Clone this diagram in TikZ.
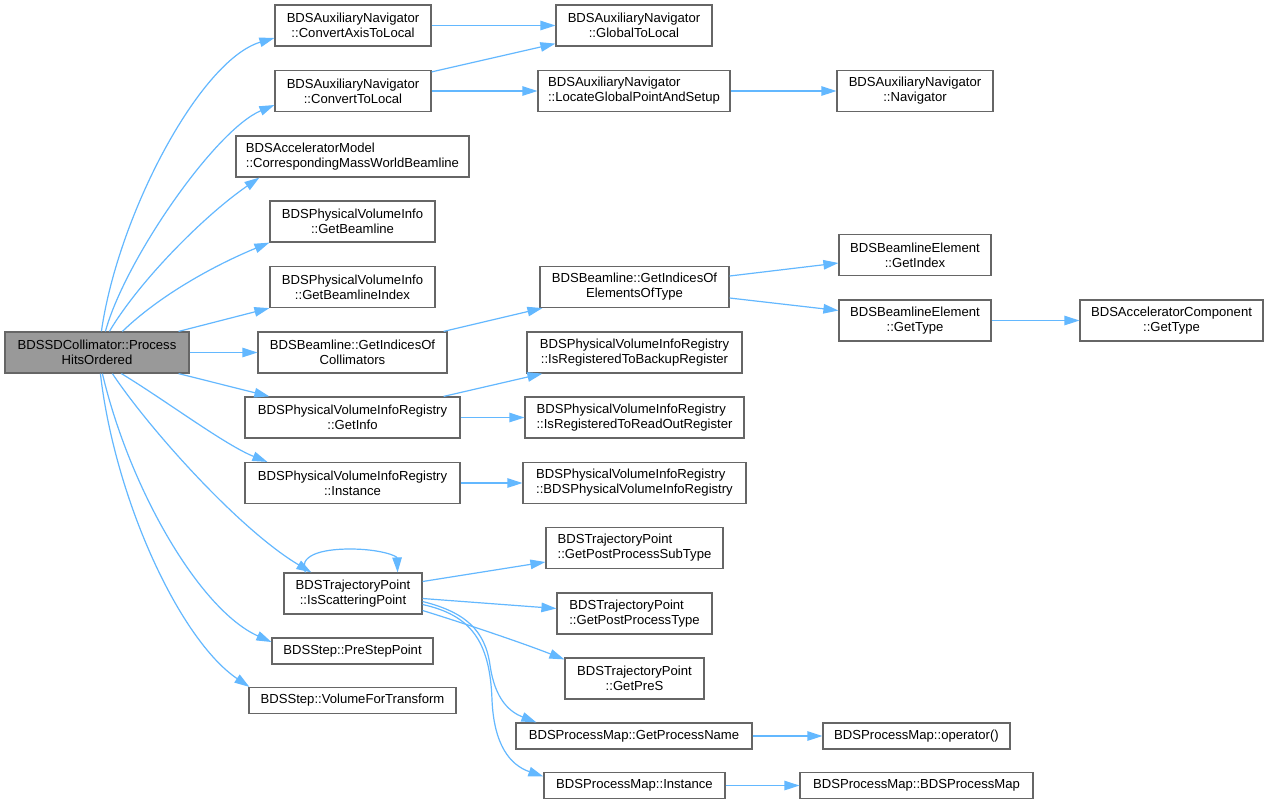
\documentclass[tikz,border=0pt]{standalone}
\usepackage{fontspec}
\setmainfont{Liberation Sans}
\usetikzlibrary{arrows.meta,calc}
\definecolor{edgeblue}{HTML}{63B8FF}
\definecolor{boxgray}{HTML}{666666}
\definecolor{mainfill}{HTML}{999999}
\begin{document}
\begin{tikzpicture}[x=1pt,y=-1pt,
  fn/.style={draw=boxgray, line width=1.2pt, fill=white, inner sep=0pt, align=center,
    font=\fontsize{13.1}{14.8}\selectfont},
  fnl/.style={fn, align=left},
  call/.style={draw=edgeblue, line width=1.2pt, -{Triangle[length=15pt,width=9.5pt]}}]
\useasboundingbox[fill=white] (0,0) rectangle (1266,804);

% column 0
\node[fn, fill=mainfill, minimum width=184pt, minimum height=41pt] (main) at (97,352.5) {BDSSDCollimator::Process\\HitsOrdered};
% column 1
\node[fn, minimum width=156pt, minimum height=41pt] (CATL) at (353,25.5) {BDSAuxiliaryNavigator\\::ConvertAxisToLocal};
\node[fn, minimum width=156pt, minimum height=41pt] (CTL) at (353,91) {BDSAuxiliaryNavigator\\::ConvertToLocal};
\node[fnl, minimum width=233pt, minimum height=41pt] (CMWB) at (352.5,156.5) {BDSAcceleratorModel\\::CorrespondingMassWorldBeamline};
\node[fn, minimum width=165pt, minimum height=41pt] (GB) at (352.5,221.5) {BDSPhysicalVolumeInfo\\::GetBeamline};
\node[fn, minimum width=165pt, minimum height=41pt] (GBI) at (352.5,287) {BDSPhysicalVolumeInfo\\::GetBeamlineIndex};
\node[fn, minimum width=189pt, minimum height=41pt] (GIOC) at (352.5,352.5) {BDSBeamline::GetIndicesOf\\Collimators};
\node[fn, minimum width=215pt, minimum height=41pt] (GetInfo) at (352.5,417.5) {BDSPhysicalVolumeInfoRegistry\\::GetInfo};
\node[fn, minimum width=215pt, minimum height=41pt] (RegInst) at (352.5,483) {BDSPhysicalVolumeInfoRegistry\\::Instance};
\node[fn, minimum width=138pt, minimum height=41pt] (IsScat) at (353,593.5) {BDSTrajectoryPoint\\::IsScatteringPoint};
\node[fn, minimum width=161pt, minimum height=26pt] (PreStep) at (352.5,651) {BDSStep::PreStepPoint};
\node[fn, minimum width=207pt, minimum height=26pt] (VFT) at (352.5,700.5) {BDSStep::VolumeForTransform};
% column 2
\node[fn, minimum width=156pt, minimum height=41pt] (GTL) at (634,25.5) {BDSAuxiliaryNavigator\\::GlobalToLocal};
\node[fnl, minimum width=192pt, minimum height=41pt] (LGPS) at (634,91) {BDSAuxiliaryNavigator\\::LocateGlobalPointAndSetup};
\node[fn, minimum width=189pt, minimum height=41pt] (GIOET) at (634.5,287) {BDSBeamline::GetIndicesOf\\ElementsOfType};
\node[fn, minimum width=215pt, minimum height=41pt] (IRBR) at (634.5,352.5) {BDSPhysicalVolumeInfoRegistry\\::IsRegisteredToBackupRegister};
\node[fnl, minimum width=219pt, minimum height=41pt] (IRROR) at (634.5,417.5) {BDSPhysicalVolumeInfoRegistry\\::IsRegisteredToReadOutRegister};
\node[fnl, minimum width=223pt, minimum height=41pt] (RegCtor) at (634.5,483) {BDSPhysicalVolumeInfoRegistry\\::BDSPhysicalVolumeInfoRegistry};
\node[fnl, minimum width=177pt, minimum height=41pt] (GPPST) at (634.5,548) {BDSTrajectoryPoint\\::GetPostProcessSubType};
\node[fnl, minimum width=155pt, minimum height=41pt] (GPPT) at (634.5,613.5) {BDSTrajectoryPoint\\::GetPostProcessType};
\node[fn, minimum width=139pt, minimum height=41pt] (GetPreS) at (634.5,678.5) {BDSTrajectoryPoint\\::GetPreS};
\node[fn, minimum width=236pt, minimum height=26pt] (GPN) at (634,736) {BDSProcessMap::GetProcessName};
\node[fn, minimum width=181pt, minimum height=26pt] (PMInst) at (634.5,785.5) {BDSProcessMap::Instance};
% column 3
\node[fn, minimum width=156pt, minimum height=41pt] (Nav) at (915,91) {BDSAuxiliaryNavigator\\::Navigator};
\node[fn, minimum width=152pt, minimum height=41pt] (GI) at (915,255) {BDSBeamlineElement\\::GetIndex};
\node[fn, minimum width=152pt, minimum height=41pt] (GT) at (915,320.5) {BDSBeamlineElement\\::GetType};
\node[fn, minimum width=187pt, minimum height=26pt] (OP) at (916.5,736) {BDSProcessMap::operator()};
\node[fn, minimum width=233pt, minimum height=26pt] (PMCtor) at (916.5,785.5) {BDSProcessMap::BDSProcessMap};
% column 4
\node[fn, minimum width=183pt, minimum height=41pt] (AGT) at (1171.5,320.5) {BDSAcceleratorComponent\\::GetType};

% edges from main
\draw[call] ($(main.north west)+(97,0)$) .. controls (118,215) and (200,60) .. ($(CATL.west)+(0,12.5)$);
\draw[call] ($(main.north west)+(101,0)$) .. controls (125,260) and (215,130) .. ($(CTL.west)+(0,14)$);
\draw[call] ($(main.north west)+(105,0)$) .. controls (140,280) and (205,215) .. ($(CMWB.south west)+(24,0)$);
\draw[call] ($(main.north west)+(118,0)$) .. controls (160,295) and (215,265) .. (GB.south west);
\draw[call] ($(main.north east)+(-11,0)$) -- (GBI.south west);
\draw[call] (main.east) -- (GIOC.west);
\draw[call] ($(main.south east)+(-11,0)$) -- ($(GetInfo.north west)+(25,0)$);
\draw[call] ($(main.south west)+(117,0)$) .. controls (165,400) and (225,445) .. ($(RegInst.north west)+(23,0)$);
\draw[call] ($(main.south west)+(108,0)$) .. controls (150,430) and (240,530) .. ($(IsScat.north west)+(28,0)$);
\draw[call] ($(main.south west)+(98,0)$) .. controls (130,490) and (200,610) .. ($(PreStep.west)+(0,-9)$);
\draw[call] ($(main.south west)+(96,0)$) .. controls (115,500) and (180,640) .. ($(VFT.north west)+(1,0)$);

% second level
\draw[call] (CATL.east) -- (GTL.west);
\draw[call] ($(CTL.north east)+(0,2)$) -- ($(GTL.south west)+(0,-3)$);
\draw[call] (CTL.east) -- (LGPS.west);
\draw[call] (LGPS.east) -- (Nav.west);
\draw[call] ($(GIOC.north east)+(-4,0)$) -- ($(GIOET.south west)+(3,0)$);
\draw[call] ($(GIOET.east)+(0,-11)$) -- ($(GI.west)+(0,8)$);
\draw[call] ($(GIOET.east)+(0,11)$) -- ($(GT.west)+(0,-10)$);
\draw[call] (GT.east) -- (AGT.west);
\draw[call] ($(GetInfo.north east)+(-17,0)$) -- ($(IRBR.south west)+(16,0)$);
\draw[call] (GetInfo.east) -- (IRROR.west);
\draw[call] (RegInst.east) -- (RegCtor.west);

% IsScatteringPoint
\draw[call] ($(IsScat.north west)+(22,0)$) .. controls (298,556) and (320,549) .. (350,549)
   .. controls (380,549) and (397,556) .. ($(IsScat.north east)+(-25,0)$);
\draw[call] ($(IsScat.east)+(0,-12)$) -- ($(GPPST.west)+(0,14)$);
\draw[call] ($(IsScat.east)+(0,5)$) -- ($(GPPT.west)+(0,-5)$);
\draw[call] ($(IsScat.east)+(0,17)$) .. controls (460,622) and (520,642) .. ($(GetPreS.north west)+(0,2)$);
\draw[call] ($(IsScat.east)+(0,8)$) .. controls (465,612) and (485,630) .. (490,665)
   .. controls (495,700) and (510,712) .. ($(GPN.north west)+(21,0)$);
\draw[call] ($(IsScat.east)+(0,11)$) .. controls (470,615) and (490,640) .. (492,700)
   .. controls (494,745) and (510,765) .. ($(PMInst.west)+(0,-9)$);
\draw[call] (GPN.east) -- (OP.west);
\draw[call] (PMInst.east) -- (PMCtor.west);
\end{tikzpicture}
\end{document}
